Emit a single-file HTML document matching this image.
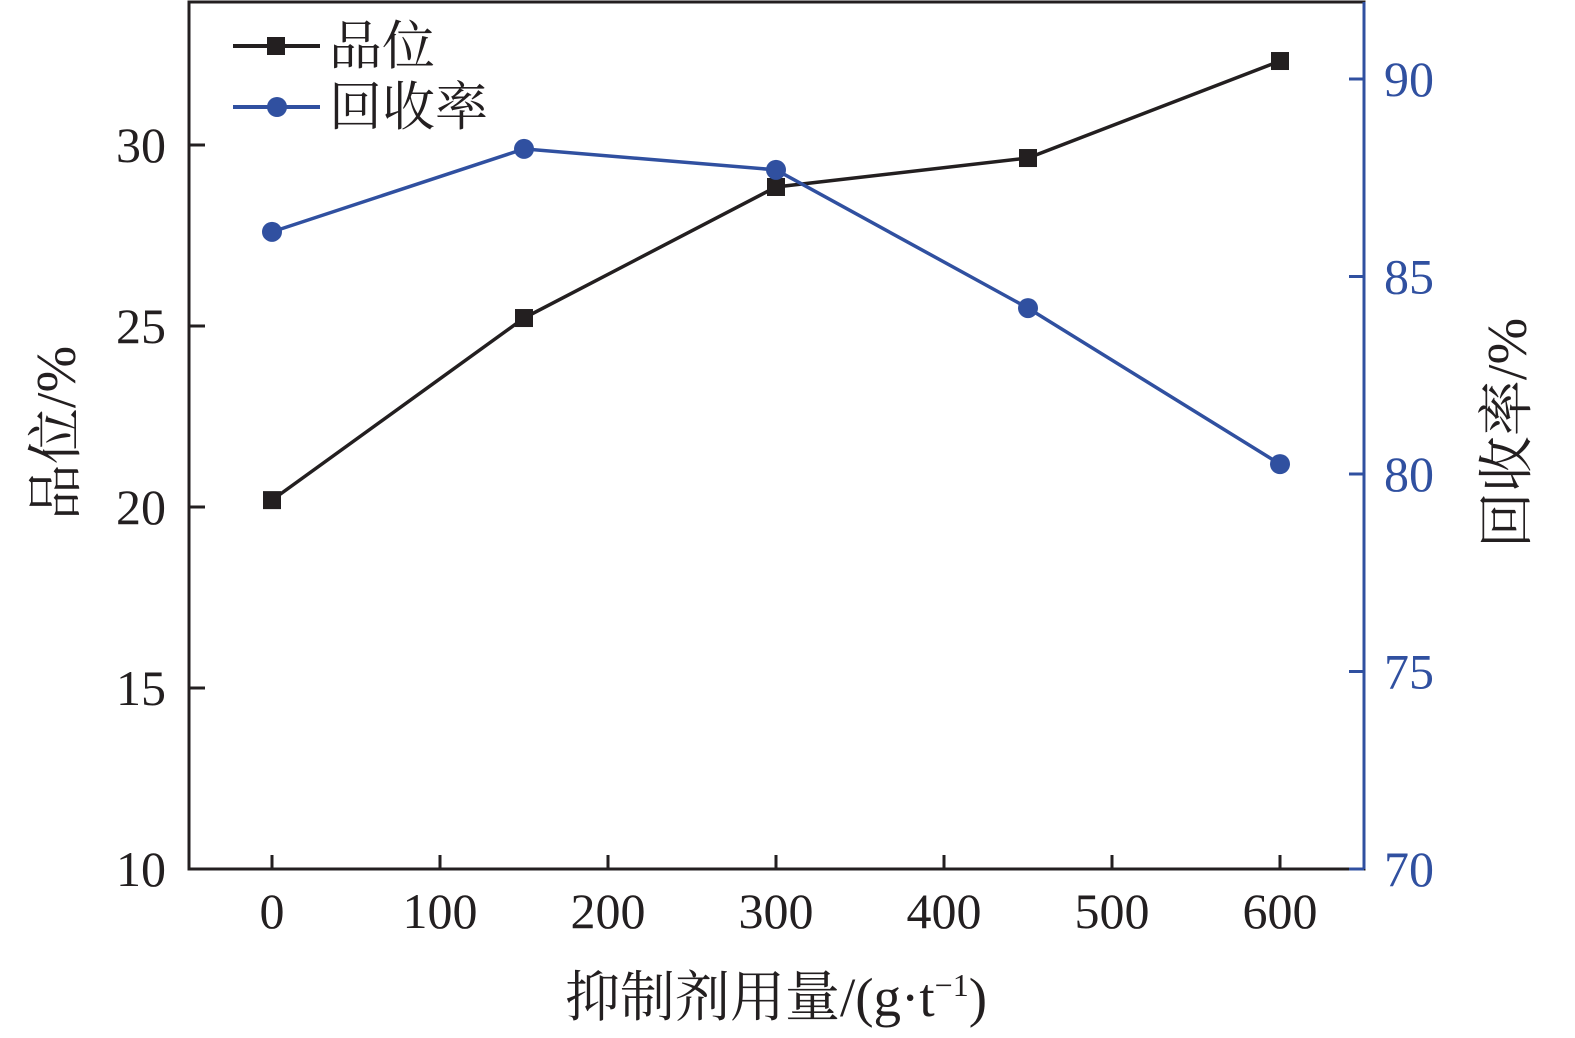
<!DOCTYPE html>
<html><head><meta charset="utf-8"><style>
html,body{margin:0;padding:0;background:#fff}
svg{display:block}
text{font-family:"Liberation Serif","Noto Serif CJK SC",serif}
</style></head><body>
<svg id="chart" width="1575" height="1038" viewBox="0 0 1575 1038" xmlns="http://www.w3.org/2000/svg"></svg>
<script>
const categories=[0,150,300,450,600];
const gradeValues=[20.19,25.22,28.84,29.64,32.32];
const recoveryValues=[86.13,88.23,87.70,84.20,80.25];
const xTicks=[0,100,200,300,400,500,600];
const yLeftTicks=[10,15,20,25,30];
const yRightTicks=[70,75,80,85,90];

const L=189,R=1364,T=2,B=869;
const K='#231f20',BL='#3050a0';
const x=v=>272+(v-0)*(1280-272)/600;
const yl=v=>869-(v-10)*36.2;
const yr=v=>869-(v-70)*39.5;
const svg=document.getElementById('chart');
const NS='http://www.w3.org/2000/svg';
function mk(tag,attrs,parent){const e=document.createElementNS(NS,tag);for(const k in attrs)e.setAttribute(k,attrs[k]);(parent||svg).appendChild(e);return e;}

const frame=mk('rect',{x:L,y:T,width:R-L,height:B-T,fill:'none',stroke:K,'stroke-width':3});


const ra=mk('line',{x1:R,y1:T,x2:R,y2:B,stroke:BL,'stroke-width':3});



xTicks.forEach(v=>{
  const t=mk('line',{x1:x(v),y1:B,x2:x(v),y2:B-14,stroke:K,'stroke-width':3});
  
  
  const l=mk('text',{x:x(v),y:928,'text-anchor':'middle','font-size':50,fill:K});
  l.textContent=v;
  
  
});
yLeftTicks.forEach(v=>{
  const t=mk('line',{x1:L,y1:yl(v),x2:L+16,y2:yl(v),stroke:K,'stroke-width':3});
  
  
  const l=mk('text',{x:166,y:yl(v)+17,'text-anchor':'end','font-size':50,fill:K});
  l.textContent=v;
  
  
});
yRightTicks.forEach(v=>{
  const t=mk('line',{x1:R,y1:yr(v),x2:R-15,y2:yr(v),stroke:BL,'stroke-width':3});
  
  
  const l=mk('text',{x:1384,y:yr(v)+17,'text-anchor':'start','font-size':50,fill:BL});
  l.textContent=v;
  
  
});

const gl=mk('polyline',{points:categories.map((c,i)=>x(c)+','+yl(gradeValues[i])).join(' '),fill:'none',stroke:K,'stroke-width':3.5});


categories.forEach((c,i)=>{
  const m=mk('rect',{x:x(c)-9,y:yl(gradeValues[i])-9,width:18,height:18,fill:K});
  
  
});
const rl=mk('polyline',{points:categories.map((c,i)=>x(c)+','+yr(recoveryValues[i])).join(' '),fill:'none',stroke:BL,'stroke-width':3.5});


categories.forEach((c,i)=>{
  const m=mk('circle',{cx:x(c),cy:yr(recoveryValues[i]),r:10,fill:BL});
  
  
});

const lg=mk('g',{});


mk('line',{x1:233,y1:46,x2:320,y2:46,stroke:K,'stroke-width':4},lg);
mk('rect',{x:267,y:37,width:18,height:18,fill:K},lg);
const t1=mk('text',{x:329,y:64,'font-size':53,fill:K},lg);t1.textContent='品位';


mk('line',{x1:233,y1:107,x2:320,y2:107,stroke:BL,'stroke-width':4},lg);
mk('circle',{cx:277,cy:107,r:10,fill:BL},lg);
const t2=mk('text',{x:329,y:125,'font-size':53,fill:K},lg);t2.textContent='回收率';



const xt=mk('text',{x:776,y:1016,'text-anchor':'middle','font-size':55,fill:K});
xt.innerHTML='抑制剂用量/(g·t<tspan font-size="32" dy="-20">−1</tspan><tspan dy="20">)</tspan>';


const ylt=mk('text',{x:0,y:0,'text-anchor':'middle','font-size':56,fill:K,transform:'translate(75,433) rotate(-90)'});
ylt.textContent='品位/%';


const yrt=mk('text',{x:0,y:0,'text-anchor':'middle','font-size':56,fill:K,transform:'translate(1526,433) rotate(-90)'});
yrt.textContent='回收率/%';


</script>
</body></html>
